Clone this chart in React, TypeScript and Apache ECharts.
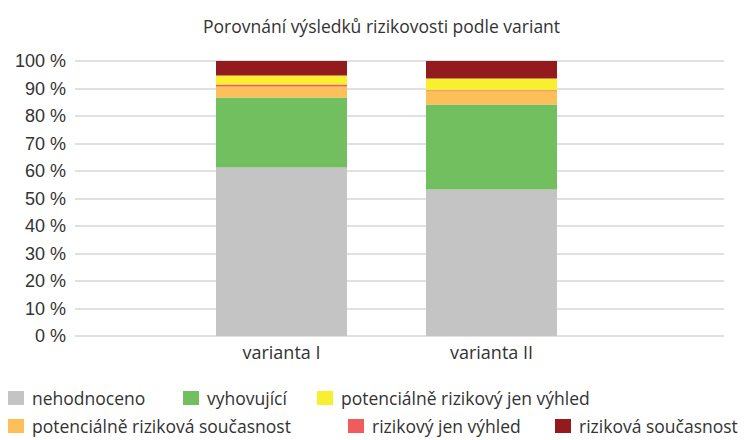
import React, { useEffect, useRef } from "react";
import * as echarts from "echarts";

const categories = ["varianta I", "varianta II"];
const seriesNames = [
  "nehodnoceno",
  "vyhovující",
  "potenciálně riziková současnost",
  "rizikový jen výhled",
  "potenciálně rizikový jen výhled",
  "riziková současnost",
];
const nehodnoceno = [61.3, 53.3];
const vyhovujici = [25.4, 30.9];
const potRizSoucasnost = [4.0, 4.8];
const rizVyhled = [0.75, 0.4];
const potRizVyhled = [3.3, 4.2];
const rizSoucasnost = [5.25, 6.4];
const seriesValues = [nehodnoceno, vyhovujici, potRizSoucasnost, rizVyhled, potRizVyhled, rizSoucasnost];
const colors = ["#C3C4C3", "#71BF5E", "#FDBF57", "#F25B5B", "#F8EF2F", "#931A1D"];
const yTicks = [0, 10, 20, 30, 40, 50, 60, 70, 80, 90, 100];

// legend placement: [name, left, top]
const legendRows: [string, number, number][] = [
  ["nehodnoceno", 8, 389],
  ["vyhovující", 183, 389],
  ["potenciálně rizikový jen výhled", 317, 389],
  ["potenciálně riziková současnost", 8, 417],
  ["rizikový jen výhled", 348, 417],
  ["riziková současnost", 555, 417],
];

export default function App() {
  const ref = useRef<HTMLDivElement>(null);
  useEffect(() => {
    if (!ref.current) return;
    const chart = echarts.init(ref.current, null, { renderer: "svg" });
    const font = "Open Sans";
    chart.setOption({
      animation: false,
      backgroundColor: "#ffffff",
      title: {
        text: "Porovnání výsledků rizikovosti podle variant",
        left: 198,
        top: 12,
        textStyle: { fontFamily: font, fontSize: 17.5, fontWeight: "normal", color: "#333333" },
      },
      legend: legendRows.map(([name, left, top]) => ({
        data: [name],
        left,
        top,
        icon: "rect",
        itemWidth: 16,
        itemHeight: 14,
        padding: 0,
        selectedMode: false,
        textStyle: {
          fontFamily: font,
          fontSize: 17.5,
          lineHeight: 18,
          color: "#333333",
          padding: [0, 0, 0, 3],
        },
      })),
      grid: [
        { left: 75, right: 23, top: 61, bottom: 104 },
        { left: 176.5, width: 420, top: 61, bottom: 104 },
      ],
      xAxis: [
        { type: "value", gridIndex: 0, show: false, min: 0, max: 1 },
        {
          type: "category",
          gridIndex: 1,
          data: categories,
          axisLine: { show: false },
          axisTick: { show: false },
          axisLabel: { fontFamily: font, fontSize: 18, color: "#333333", margin: 7 },
        },
      ],
      yAxis: [
        {
          type: "value",
          gridIndex: 0,
          min: 0,
          max: 100,
          interval: 10,
          axisLine: { show: false },
          axisTick: { show: false },
          splitLine: { lineStyle: { color: "#D6D6D6", width: 1.5 } },
          axisLabel: {
            fontFamily: "Liberation Sans",
            fontSize: 18,
            color: "#333333",
            margin: 9,
            formatter: (v: number) => (yTicks.includes(v) ? `${v} %` : ""),
          },
        },
        { type: "value", gridIndex: 1, min: 0, max: 100, show: false },
      ],
      series: seriesNames.map((name, i) => ({
        name,
        type: "bar",
        stack: "total",
        xAxisIndex: 1,
        yAxisIndex: 1,
        barWidth: 131,
        itemStyle: { color: colors[i] },
        data: seriesValues[i],
      })),
    });
    return () => chart.dispose();
  }, []);
  return (
    <div
      ref={ref}
      style={{ position: "fixed", left: 0, top: 0, width: 747, height: 440 }}
    />
  );
}
